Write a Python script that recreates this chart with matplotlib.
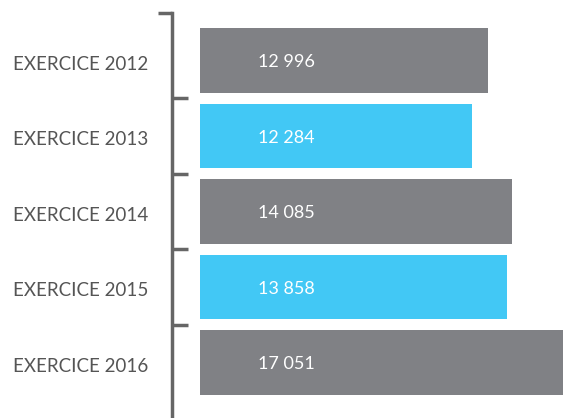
import matplotlib.pyplot as plt

labels = ['EXERCICE 2012', 'EXERCICE 2013', 'EXERCICE 2014', 'EXERCICE 2015', 'EXERCICE 2016']
values = [12996, 12284, 14085, 13858, 17051]
value_text = ['12 996', '12 284', '14 085', '13 858', '17 051']
colors = ['#808185', '#42c8f5', '#808185', '#42c8f5', '#808185']

W, H = 563, 418
fig = plt.figure(figsize=(W / 100, H / 100), dpi=100)
ax = fig.add_axes([172 / W, 0, 1 - 172 / W, 1 - 13 / H])

pos = list(range(len(values)))
ax.barh(pos, values, height=0.86, color=colors, left=0)
ax.set_xlim(-1264, 16388)
ax.set_ylim(4.735, -0.629)

for i, t in enumerate(value_text):
    ax.text(2618, i + 0.02, t, color='white', fontsize=13, family='Lato',
            va='center', ha='left')

for s in ['top', 'right', 'bottom']:
    ax.spines[s].set_visible(False)
ax.spines['left'].set_color('#666666')
ax.spines['left'].set_linewidth(2.5)
ax.set_xticks([])

ax.set_yticks([0.5, 1.5, 2.5, 3.5])
ax.set_yticklabels([])
ax.tick_params(axis='y', which='major', direction='in', length=11.5,
               width=2.5, color='#666666')
ax.set_yticks([p + 0.03 for p in pos], minor=True)
ax.set_yticklabels(labels, minor=True)
ax.tick_params(axis='y', which='minor', length=0, pad=17, labelsize=13.5,
               labelcolor='#555555')
for lab in ax.get_yticklabels(minor=True):
    lab.set_family('Lato')

# small leftward cap at the top of the axis
ax.plot([-14 / 391, 0], [1, 1], transform=ax.transAxes, color='#666666',
        lw=2.5, clip_on=False, solid_capstyle='butt')

fig.savefig('out.png', dpi=100)
